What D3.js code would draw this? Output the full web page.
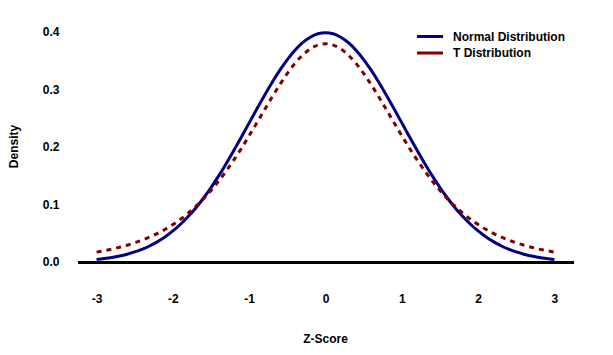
<!DOCTYPE html>
<html>
<head>
<meta charset="utf-8">
<script src="https://cdn.jsdelivr.net/npm/d3@7"></script>
<style>
  html, body { margin: 0; padding: 0; background: #fff; }
  svg { display: block; }
  text { font-family: "Liberation Sans", Arial, Helvetica, sans-serif; font-weight: bold; font-size: 12px; fill: #000; }
</style>
</head>
<body>
<svg id="chart" width="613" height="355"></svg>
<script>
// ---- data ----
const zScores = [-3.0,-2.9,-2.8,-2.7,-2.6,-2.5,-2.4,-2.3,-2.2,-2.1,-2.0,-1.9,-1.8,-1.7,-1.6,-1.5,-1.4,-1.3,-1.2,-1.1,-1.0,-0.9,-0.8,-0.7,-0.6,-0.5,-0.4,-0.3,-0.2,-0.1,0.0,0.1,0.2,0.3,0.4,0.5,0.6,0.7,0.8,0.9,1.0,1.1,1.2,1.3,1.4,1.5,1.6,1.7,1.8,1.9,2.0,2.1,2.2,2.3,2.4,2.5,2.6,2.7,2.8,2.9,3.0];
const normalDensity = [0.0044,0.0060,0.0079,0.0104,0.0136,0.0175,0.0224,0.0283,0.0355,0.0440,0.0540,0.0656,0.0790,0.0940,0.1109,0.1295,0.1497,0.1714,0.1942,0.2179,0.2420,0.2661,0.2897,0.3123,0.3332,0.3521,0.3683,0.3814,0.3910,0.3970,0.3989,0.3970,0.3910,0.3814,0.3683,0.3521,0.3332,0.3123,0.2897,0.2661,0.2420,0.2179,0.1942,0.1714,0.1497,0.1295,0.1109,0.0940,0.0790,0.0656,0.0540,0.0440,0.0355,0.0283,0.0224,0.0175,0.0136,0.0104,0.0079,0.0060,0.0044];
const tDensity = [0.0173,0.0197,0.0224,0.0256,0.0292,0.0333,0.0381,0.0436,0.0498,0.0570,0.0651,0.0743,0.0848,0.0966,0.1098,0.1245,0.1407,0.1585,0.1777,0.1981,0.2197,0.2420,0.2645,0.2868,0.3081,0.3279,0.3454,0.3598,0.3706,0.3773,0.3796,0.3773,0.3706,0.3598,0.3454,0.3279,0.3081,0.2868,0.2645,0.2420,0.2197,0.1981,0.1777,0.1585,0.1407,0.1245,0.1098,0.0966,0.0848,0.0743,0.0651,0.0570,0.0498,0.0436,0.0381,0.0333,0.0292,0.0256,0.0224,0.0197,0.0173];
const seriesNames = ["Normal Distribution", "T Distribution"];
const xTicks = [-3, -2, -1, 0, 1, 2, 3];
const yTicks = [0.0, 0.1, 0.2, 0.3, 0.4];

// ---- layout ----
const svg = d3.select("#chart");
const colors = ["#000080", "#800000"];

const x = d3.scaleLinear().domain([-3.25, 3.25]).range([77.5, 573.5]);
const y = d3.scaleLinear().domain([0, 0.4]).range([262, 32]);

// y axis (labels only)
const yAxis = svg.append("g")
  .attr("transform", `translate(${x(-3.25)},0)`)
  .call(d3.axisLeft(y).tickValues(yTicks).tickFormat(d => d.toFixed(1)).tickSize(0).tickPadding(18));
yAxis.select(".domain").remove();
yAxis.attr("font-family", null).attr("font-size", null);

// x axis (thick baseline + labels)
const xAxis = svg.append("g")
  .attr("transform", `translate(0,${y(0)})`)
  .call(d3.axisBottom(x).tickValues(xTicks).tickFormat(d => String(d)).tickSize(0).tickSizeOuter(0).tickPadding(32));
xAxis.attr("font-family", null).attr("font-size", null);
xAxis.select(".domain").attr("stroke", "#000").attr("stroke-width", 3);

// axis titles
svg.append("text")
  .attr("transform", "translate(14,146.5) rotate(-90)")
  .attr("text-anchor", "middle")
  .attr("dominant-baseline", "central")
  .text("Density");
svg.append("text")
  .attr("x", x(0))
  .attr("y", 339)
  .attr("text-anchor", "middle")
  .attr("dominant-baseline", "central")
  .text("Z-Score");

// curves
const seriesData = [normalDensity, tDensity];
const line = d3.line()
  .x((d, i) => x(zScores[i]))
  .y(d => y(d))
  .curve(d3.curveMonotoneX);

svg.selectAll("path.series")
  .data(seriesData)
  .join("path")
  .attr("class", "series")
  .attr("fill", "none")
  .attr("stroke", (d, i) => colors[i])
  .attr("stroke-width", 3)
  .attr("stroke-dasharray", (d, i) => i === 1 ? "5,5" : null)
  .attr("d", line);

// legend
const legend = svg.append("g");
seriesNames.forEach((name, i) => {
  const ly = 36.5 + i * 16.5;
  legend.append("line")
    .attr("x1", 417).attr("x2", 443)
    .attr("y1", ly).attr("y2", ly)
    .attr("stroke", colors[i]).attr("stroke-width", 3);
  legend.append("text")
    .attr("x", 453).attr("y", ly)
    .attr("dominant-baseline", "central")
    .text(name);
});
</script>
</body>
</html>
